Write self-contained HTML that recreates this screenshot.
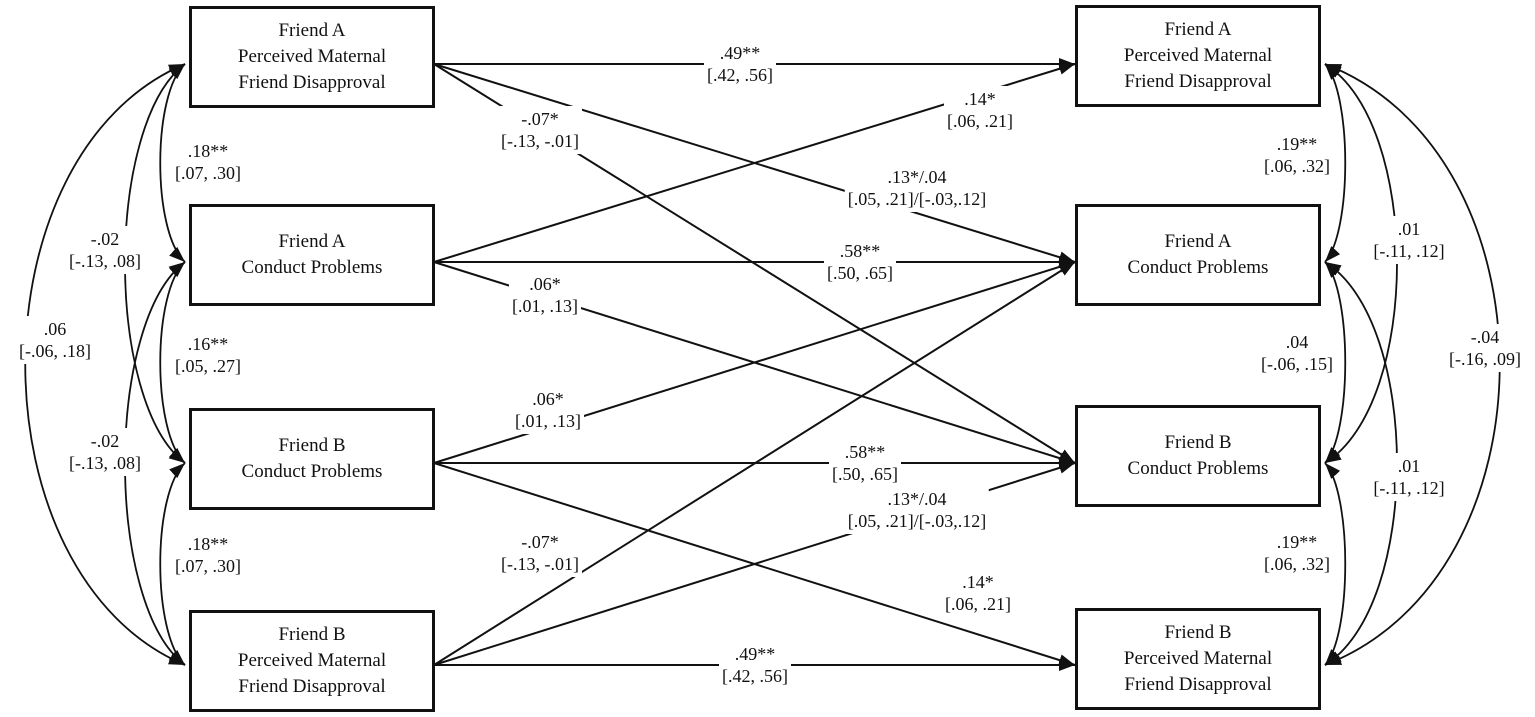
<!DOCTYPE html>
<html><head><style>
body{margin:0;width:1535px;height:717px;background:#fff;position:relative;overflow:hidden;font-family:"Liberation Serif",serif;color:#111}
.b{position:absolute;border:3px solid #111;box-sizing:border-box;width:246px;height:102px;display:flex;align-items:center;justify-content:center;text-align:center;font-size:19px;line-height:26px;background:#fff}
.l{position:absolute;transform:translate(-50%,-50%);background:#fff;text-align:center;font-size:18px;line-height:22px;padding:2px 3px;white-space:nowrap}
svg{position:absolute;left:0;top:0}
</style></head><body>
<svg width="1535" height="717">
<defs><marker id="a" viewBox="0 0 16 12" refX="16" refY="6" markerWidth="16" markerHeight="12" markerUnits="userSpaceOnUse" orient="auto-start-reverse"><path d="M0,0L16,6L0,12z" fill="#111"/></marker></defs>
<g stroke="#111" stroke-width="2" fill="none" marker-end="url(#a)">
<path d="M434,64L1075,64"/><path d="M434,64L1075,262"/><path d="M434,64L1075,463"/>
<path d="M434,262L1075,64"/><path d="M434,262L1075,262"/><path d="M434,262L1075,463"/>
<path d="M434,463L1075,262"/><path d="M434,463L1075,463"/><path d="M434,463L1075,665"/>
<path d="M434,665L1075,262"/><path d="M434,665L1075,463"/><path d="M434,665L1075,665"/>
</g>
<g stroke="#111" stroke-width="1.8" fill="none" marker-start="url(#a)" marker-end="url(#a)">
<path d="M185,64C152,94 152,232 185,262"/>
<path d="M185,262C152,292 152,433 185,463"/>
<path d="M185,463C152,493 152,635 185,665"/>
<path d="M185,64C105,124 105,403 185,463"/>
<path d="M185,262C105,322 105,605 185,665"/>
<path d="M185,64C-28,154 -28,575 185,665"/>
<path d="M1325,64C1352,94 1352,232 1325,262"/>
<path d="M1325,262C1352,292 1352,433 1325,463"/>
<path d="M1325,463C1352,493 1352,635 1325,665"/>
<path d="M1325,64C1421,124 1421,403 1325,463"/>
<path d="M1325,262C1421,322 1421,605 1325,665"/>
<path d="M1325,64C1558,154 1558,575 1325,665"/>
</g>
</svg>
<div class="b" style="left:189px;top:6px">Friend A<br>Perceived Maternal<br>Friend Disapproval</div>
<div class="b" style="left:189px;top:204px">Friend A<br>Conduct Problems</div>
<div class="b" style="left:189px;top:408px">Friend B<br>Conduct Problems</div>
<div class="b" style="left:189px;top:610px">Friend B<br>Perceived Maternal<br>Friend Disapproval</div>
<div class="b" style="left:1075px;top:5px">Friend A<br>Perceived Maternal<br>Friend Disapproval</div>
<div class="b" style="left:1075px;top:204px">Friend A<br>Conduct Problems</div>
<div class="b" style="left:1075px;top:405px">Friend B<br>Conduct Problems</div>
<div class="b" style="left:1075px;top:608px">Friend B<br>Perceived Maternal<br>Friend Disapproval</div>

<div class="l" style="left:740px;top:64px">.49**<br>[.42, .56]</div>
<div class="l" style="left:917px;top:188px">.13*/.04<br>[.05, .21]/[-.03,.12]</div>
<div class="l" style="left:540px;top:130px">-.07*<br>[-.13, -.01]</div>
<div class="l" style="left:980px;top:110px">.14*<br>[.06, .21]</div>
<div class="l" style="left:860px;top:262px">.58**<br>[.50, .65]</div>
<div class="l" style="left:545px;top:295px">.06*<br>[.01, .13]</div>
<div class="l" style="left:548px;top:410px">.06*<br>[.01, .13]</div>
<div class="l" style="left:865px;top:463px">.58**<br>[.50, .65]</div>
<div class="l" style="left:978px;top:593px">.14*<br>[.06, .21]</div>
<div class="l" style="left:540px;top:553px">-.07*<br>[-.13, -.01]</div>
<div class="l" style="left:917px;top:510px">.13*/.04<br>[.05, .21]/[-.03,.12]</div>
<div class="l" style="left:755px;top:665px">.49**<br>[.42, .56]</div>

<div class="l" style="left:208px;top:162px">.18**<br>[.07, .30]</div>
<div class="l" style="left:105px;top:250px">-.02<br>[-.13, .08]</div>
<div class="l" style="left:208px;top:355px">.16**<br>[.05, .27]</div>
<div class="l" style="left:105px;top:452px">-.02<br>[-.13, .08]</div>
<div class="l" style="left:208px;top:555px">.18**<br>[.07, .30]</div>
<div class="l" style="left:55px;top:340px">.06<br>[-.06, .18]</div>

<div class="l" style="left:1297px;top:155px">.19**<br>[.06, .32]</div>
<div class="l" style="left:1409px;top:240px">.01<br>[-.11, .12]</div>
<div class="l" style="left:1297px;top:353px">.04<br>[-.06, .15]</div>
<div class="l" style="left:1409px;top:477px">.01<br>[-.11, .12]</div>
<div class="l" style="left:1297px;top:553px">.19**<br>[.06, .32]</div>
<div class="l" style="left:1485px;top:348px">-.04<br>[-.16, .09]</div>
</body></html>
